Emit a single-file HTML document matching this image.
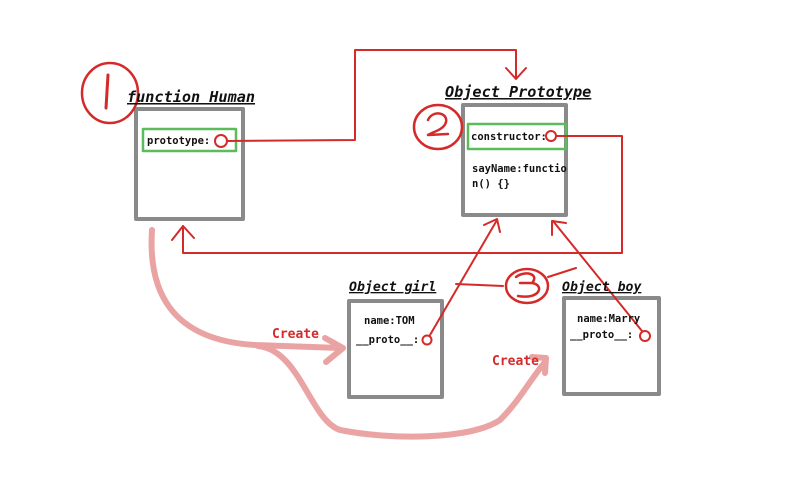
<!DOCTYPE html>
<html><head><meta charset="utf-8"><style>
html,body{margin:0;padding:0;background:#fff;width:792px;height:499px;overflow:hidden}
svg{display:block}
.t{font-family:"DejaVu Sans Mono","Liberation Mono",monospace;font-weight:bold;font-size:10.5px;fill:#111}
.h{font-family:"DejaVu Sans Mono","Liberation Mono",monospace;font-weight:bold;font-style:italic;font-size:15.2px;fill:#111;text-decoration:underline}
.s{font-family:"DejaVu Sans Mono","Liberation Mono",monospace;font-weight:bold;font-style:italic;font-size:13.2px;fill:#111;text-decoration:underline}
.c{font-family:"DejaVu Sans Mono","Liberation Mono",monospace;font-weight:bold;font-size:13px;fill:#d42a2a}
</style></head><body>
<svg width="792" height="499" viewBox="0 0 792 499" xmlns="http://www.w3.org/2000/svg">
<g fill="none" stroke-linecap="round" stroke-linejoin="round">
<g stroke="#e89a9a" stroke-width="6" opacity="0.9">
<path d="M152 230 C148 290 170 340 255 345 L340 348"/>
<path d="M325 338 L343 348 L326 362"/>
<path d="M258 346 C300 350 310 420 340 430 C390 440 470 440 500 420 C520 400 530 380 545 362"/>
<path d="M532 357 L546 358 L545 373"/>
</g>
<g stroke="#8a8a8a" stroke-width="4">
<rect x="136" y="109" width="107" height="110"/>
<rect x="463" y="105" width="103" height="110"/>
<rect x="349" y="301" width="93" height="96"/>
<rect x="564" y="298" width="95" height="96"/>
</g>
<g stroke="#5cbb5c" stroke-width="2.5">
<rect x="143" y="129" width="93" height="22"/>
<rect x="468" y="124" width="98" height="25"/>
</g>
<g stroke="#d42a2a" stroke-width="2">
<circle cx="221" cy="141" r="6"/>
<path d="M227 141 L355 140 L355 50 L516 50 L516 78"/>
<path d="M506 68 L516 79 L526 68"/>
<circle cx="551" cy="136" r="5"/>
<path d="M556 136 L622 136 L622 253 L183 253 L183 226"/>
<path d="M172 240 L183 226 L194 238"/>
<circle cx="427" cy="340" r="4.5"/>
<path d="M430 335 L497 220"/>
<path d="M484 225 L497 219 L500 232"/>
<circle cx="645" cy="336" r="5"/>
<path d="M642 331 L553 221"/>
<path d="M552 235 L552 221 L566 223"/>
<ellipse cx="110" cy="93" rx="28" ry="30" stroke-width="2.5"/>
<path d="M108 75 L106 108" stroke-width="3"/>
<ellipse cx="438" cy="127" rx="24" ry="22" stroke-width="2.5"/>
<path d="M428 120 C432 110 448 112 446 122 C444 130 432 132 428 135 L448 134" stroke-width="2.5"/>
<ellipse cx="527" cy="286" rx="21" ry="17" stroke-width="2.5"/>
<path d="M516 277 C525 270 540 274 532 283 C545 285 540 300 518 296 M520 283 L532 283" stroke-width="2.5"/>
<path d="M456 284 L503 286 M548 277 L576 268" stroke-width="2"/>
</g>
</g>
<text class="h" x="127" y="102">function Human</text>
<text class="h" x="445" y="97">Object Prototype</text>
<text class="s" x="349" y="291">Object girl</text>
<text class="s" x="562" y="291">Object boy</text>
<text class="t" x="147" y="144">prototype:</text>
<text class="t" x="471" y="140">constructor:</text>
<text class="t" x="472" y="172">sayName:functio</text>
<text class="t" x="472" y="187">n() {}</text>
<text class="t" x="364" y="324">name:TOM</text>
<text class="t" x="356" y="343">__proto__:</text>
<text class="t" x="577" y="322">name:Marry</text>
<text class="t" x="570" y="338">__proto__:</text>
<text class="c" x="272" y="338">Create</text>
<text class="c" x="492" y="365">Create</text>
</svg>
</body></html>
